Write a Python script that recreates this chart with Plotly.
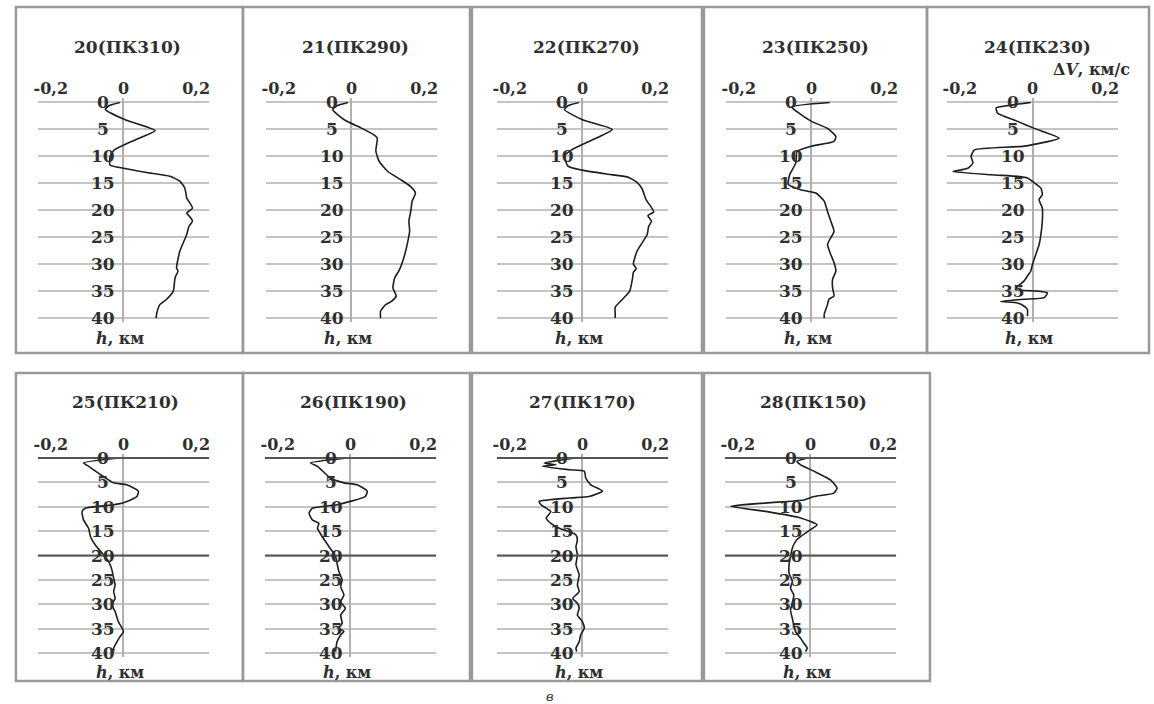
import plotly.graph_objects as go

# ---------------- data: velocity anomaly dV (km/s) versus depth h (km) ----------------
titles = ["20(ПК310)", "21(ПК290)", "22(ПК270)", "23(ПК250)", "24(ПК230)",
          "25(ПК210)", "26(ПК190)", "27(ПК170)", "28(ПК150)"]

h20 = [0, 0.6, 1.3, 3.2, 5.2, 7.0, 8.8, 10.0, 11.6, 12.2, 13.0, 13.7, 14.6, 15.9, 17.7,
       19.6, 20.5, 21.4, 22.0, 23.0, 24.5, 27.6, 30.7, 31.3, 32.5, 35.0, 36.5, 37.5, 39.3, 40.0]
dv20 = [-0.01, -0.04, -0.05, 0.005, 0.087, 0.03, -0.025, -0.037, -0.037, 0.0, 0.064, 0.128,
        0.155, 0.169, 0.174, 0.19, 0.174, 0.185, 0.19, 0.18, 0.174, 0.155, 0.146, 0.15, 0.142,
        0.137, 0.119, 0.1, 0.091, 0.09]

h21 = [0, 0.6, 1.3, 3.2, 4.7, 6.0, 6.6, 9.0, 10.9, 12.8, 14.3, 15.6, 16.8, 18.3, 20.2, 22.0,
       23.9, 26.4, 28.8, 31.3, 32.5, 34.4, 35.9, 36.9, 37.5, 38.7, 40.0]
dv21 = [-0.01, -0.04, -0.052, -0.02, 0.026, 0.062, 0.071, 0.067, 0.076, 0.1, 0.135, 0.163,
        0.176, 0.167, 0.163, 0.158, 0.16, 0.153, 0.144, 0.13, 0.119, 0.114, 0.123, 0.11,
        0.094, 0.08, 0.08]

h22 = [0, 0.6, 1.3, 3.2, 5.0, 7.0, 8.8, 10.0, 11.8, 12.5, 13.3, 13.8, 14.8, 16.0, 18.0, 19.5,
       20.3, 21.0, 22.0, 23.0, 24.5, 27.6, 30.0, 30.8, 31.5, 32.5, 35.0, 36.5, 38.0, 39.3, 40.0]
dv22 = [-0.01, -0.04, -0.05, 0.0, 0.082, 0.025, -0.03, -0.05, -0.04, -0.005, 0.07, 0.123,
        0.15, 0.164, 0.175, 0.19, 0.196, 0.18, 0.19, 0.182, 0.178, 0.15, 0.14, 0.148, 0.14,
        0.138, 0.13, 0.11, 0.09, 0.09, 0.09]

h23 = [0, 0.8, 1.7, 3.5, 4.8, 6.3, 7.2, 8.1, 9.1, 11.2, 13.4, 15.2, 16.2, 16.8, 18.3, 20.2,
       22.0, 23.9, 25.7, 26.4, 28.2, 29.7, 31.3, 32.8, 34.4, 35.9, 36.5, 37.5, 39.3, 40.0]
dv23 = [0.05, -0.055, -0.04, 0.0, 0.044, 0.067, 0.062, 0.0, -0.04, -0.043, -0.06, -0.064,
        -0.03, 0.012, 0.035, 0.044, 0.053, 0.062, 0.048, 0.044, 0.053, 0.062, 0.067, 0.058,
        0.058, 0.062, 0.048, 0.044, 0.035, 0.035]

h24 = [0, 0.4, 1.0, 2.0, 3.5, 4.8, 6.6, 8.1, 8.8, 10.0, 11.2, 12.2, 12.8, 13.4, 13.7, 14.0,
       14.9, 15.9, 17.1, 18.0, 19.6, 22.0, 24.5, 26.4, 28.2, 30.0, 31.3, 32.2, 33.1, 34.1,
       34.7, 35.0, 35.3, 36.2, 36.5, 36.9, 37.2, 37.8, 38.4, 39.6]
dv24 = [-0.005, -0.05, -0.1, -0.096, -0.041, 0.005, 0.073, -0.023, -0.16, -0.169, -0.164,
        -0.178, -0.219, -0.114, -0.041, -0.014, 0.005, 0.023, 0.027, 0.018, 0.027, 0.027,
        0.023, 0.018, 0.009, 0.0, -0.005, -0.014, -0.023, -0.041, -0.046, 0.014, 0.041,
        0.032, -0.023, -0.087, -0.041, -0.023, -0.014, -0.014]

h25 = [0, 1.0, 1.7, 3.8, 5.1, 5.5, 6.8, 7.9, 9.2, 9.6, 10.3, 11.0, 12.7, 14.4, 16.1, 17.8,
       19.5, 21.2, 22.9, 24.7, 26.0, 27.4, 28.8, 30.1, 31.5, 33.6, 35.6, 36.6, 37.7, 39.0, 39.7]
dv25 = [-0.01, -0.11, -0.096, -0.055, -0.027, 0.009, 0.041, 0.037, 0.0, -0.027, -0.105,
        -0.114, -0.11, -0.096, -0.091, -0.078, -0.059, -0.041, -0.032, -0.027, -0.023,
        -0.027, -0.023, -0.032, -0.023, -0.014, 0.0, -0.009, -0.018, -0.027, -0.027]

h26 = [0, 1.0, 1.7, 4.1, 5.1, 5.5, 6.8, 7.9, 8.9, 9.6, 10.3, 11.3, 12.7, 13.4, 14.4, 16.1,
       18.2, 20.2, 21.6, 23.3, 25.0, 26.4, 28.1, 29.5, 30.8, 32.2, 33.9, 34.9, 35.6, 36.3,
       37.7, 39.7]
dv26 = [-0.01, -0.11, -0.091, -0.055, -0.018, 0.018, 0.046, 0.041, 0.0, -0.037, -0.105,
        -0.114, -0.105, -0.087, -0.091, -0.078, -0.059, -0.041, -0.037, -0.032, -0.023,
        -0.027, -0.018, -0.027, -0.014, -0.027, -0.023, -0.032, -0.018, -0.027, -0.037,
        -0.041]

h27 = [0, 1.0, 1.4, 1.7, 2.4, 2.7, 4.1, 5.5, 6.8, 7.9, 8.2, 8.9, 9.6, 10.3, 11.0, 12.3,
       13.4, 14.4, 15.1, 15.8, 16.8, 18.2, 19.9, 21.9, 24.0, 26.0, 27.4, 28.1, 28.8, 29.8,
       30.8, 32.2, 33.6, 34.9, 36.3, 37.7, 39.0, 39.7]
dv27 = [-0.02, -0.105, -0.073, -0.11, -0.037, 0.005, 0.009, 0.023, 0.055, 0.018, -0.037,
        -0.119, -0.114, -0.1, -0.087, -0.1, -0.087, -0.064, -0.037, -0.018, -0.014, -0.018,
        -0.014, -0.018, -0.009, -0.014, -0.009, -0.018, -0.027, -0.014, -0.009, -0.014,
        0.0, 0.005, -0.005, -0.009, -0.018, -0.016]

h28 = [0, 0.7, 1.4, 2.7, 4.5, 6.2, 7.2, 7.9, 8.6, 9.2, 9.9, 11.0, 12.3, 13.7, 14.7, 16.1,
       17.1, 18.5, 20.2, 21.9, 23.6, 25.3, 26.7, 28.1, 29.8, 31.2, 32.9, 34.2, 35.6, 37.0,
       38.0, 39.0, 39.7]
dv28 = [-0.01, -0.037, -0.027, 0.009, 0.055, 0.073, 0.064, 0.009, -0.018, -0.119, -0.219,
        -0.119, -0.027, 0.018, 0.0, -0.027, -0.041, -0.05, -0.055, -0.059, -0.059, -0.05,
        -0.055, -0.046, -0.05, -0.055, -0.05, -0.046, -0.041, -0.027, -0.018, -0.009, -0.014]

depths = [h20, h21, h22, h23, h24, h25, h26, h27, h28]
anomalies = [dv20, dv21, dv22, dv23, dv24, dv25, dv26, dv27, dv28]

depth_ticks = [0, 5, 10, 15, 20, 25, 30, 35, 40]
dv_tickvals = [-0.2, 0, 0.2]
dv_ticktext = ["-0,2", "0", "0,2"]

# ---------------- page geometry (pixels) ----------------
W, H = 1154, 704
SERIF = "DejaVu Serif"
INK = "#2f2f2f"
GRID = "#c4c4c4"
FRAME = "#9a9a9a"

# x position (px) of dV = 0 for each panel, and the panel frame extents
zero_px = [120, 349, 581, 811, 1033, 120, 348, 581, 810]
frames = [(12, 240, 7, 353), (240, 468, 7, 353), (470, 701, 7, 353), (703, 927, 7, 353),
          (927, 1150, 7, 353),
          (12, 240, 373, 681), (240, 468, 373, 681), (470, 701, 373, 681), (703, 930, 373, 681)]
title_px = [124, 353, 585, 815, 1038, 122, 351, 581, 813]
# per row: y px of h=0, px per km, title y, footer y
rows = {0: dict(y0=102.5, k=5.39, title=47, foot=338),
        1: dict(y0=458.0, k=4.875, title=402, foot=672)}

HALF_W = 86           # half width of a plot area in px
PX_PER_UNIT = 365.0   # px per 1 km/s
XR = HALF_W / PX_PER_UNIT
YPAD = 0.8

fig = go.Figure()
layout = dict(width=W, height=H, margin=dict(l=0, r=0, t=0, b=0),
              paper_bgcolor="white", plot_bgcolor="rgba(0,0,0,0)", showlegend=False)
annotations = []
shapes = []


def px_x(p):
    return p / W


def px_y(p):
    return 1 - p / H


for i in range(9):
    n = i + 1
    suffix = "" if n == 1 else str(n)
    row = rows[0 if i < 5 else 1]
    zx = zero_px[i]
    top = row["y0"] - YPAD * row["k"]
    bot = row["y0"] + (40 + YPAD) * row["k"]

    layout["xaxis" + suffix] = dict(
        domain=[px_x(zx - HALF_W), px_x(zx + HALF_W)], range=[-XR, XR],
        anchor="y" + suffix, side="top", tickvals=dv_tickvals, ticktext=dv_ticktext,
        ticks="", showgrid=False, zeroline=True, zerolinecolor="#b0b0b0", zerolinewidth=1.5,
        showline=False, tickfont=dict(family=SERIF, size=16, color=INK, weight="bold"),
        ticklabelstandoff=0, fixedrange=True)
    layout["yaxis" + suffix] = dict(
        domain=[px_y(bot), px_y(top)], range=[40 + YPAD, -YPAD], anchor="x" + suffix,
        tickvals=depth_ticks, showticklabels=False, ticks="", showgrid=True,
        gridcolor=GRID, gridwidth=2, zeroline=False, showline=False, fixedrange=True)

    xref, yref = "x" + suffix, "y" + suffix

    # darker reference lines at 0 and 20 km on the lower row
    if i >= 5:
        for hv in (0, 20):
            shapes.append(dict(type="line", xref=xref + " domain", yref=yref,
                               x0=0, x1=1, y0=hv, y1=hv,
                               line=dict(color="#555555", width=2), layer="above"))

    fig.add_trace(go.Scatter(x=anomalies[i], y=depths[i], mode="lines",
                             line=dict(color="#1e1e1e", width=1.6, shape="spline",
                                       smoothing=0.5),
                             xaxis=xref, yaxis=yref, hoverinfo="skip"))

    # depth labels written over the profile
    for hv in depth_ticks:
        annotations.append(dict(x=-0.055, y=hv, xref=xref, yref=yref, text=str(hv),
                                showarrow=False, xanchor="center", yanchor="middle",
                                font=dict(family=SERIF, size=17, color=INK, weight="bold")))

    annotations.append(dict(x=px_x(title_px[i]), y=px_y(row["title"]), xref="paper",
                            yref="paper", text=titles[i], showarrow=False,
                            xanchor="center", yanchor="middle",
                            font=dict(family=SERIF, size=17, color=INK, weight="bold")))
    annotations.append(dict(x=-0.01, y=px_y(row["foot"]), xref=xref, yref="paper",
                            text="<i>h</i>, км", showarrow=False, xanchor="center",
                            yanchor="middle",
                            font=dict(family=SERIF, size=16, color=INK, weight="bold")))

    fx0, fx1, fy0, fy1 = frames[i]
    shapes.append(dict(type="rect", xref="paper", yref="paper",
                       x0=px_x(fx0), x1=px_x(fx1), y0=px_y(fy1), y1=px_y(fy0),
                       line=dict(color=FRAME, width=2.5), layer="below"))

# axis caption for the velocity anomaly
annotations.append(dict(x=px_x(1092), y=px_y(70), xref="paper", yref="paper",
                        text="Δ<i>V</i>, км/с", showarrow=False, xanchor="center",
                        yanchor="middle",
                        font=dict(family=SERIF, size=16, color=INK, weight="bold")))
# figure part letter
annotations.append(dict(x=px_x(548), y=px_y(696), xref="paper", yref="paper",
                        text="<i>в</i>", showarrow=False, xanchor="center",
                        yanchor="middle", font=dict(family=SERIF, size=13, color=INK)))

layout["annotations"] = annotations
layout["shapes"] = shapes
fig.update_layout(**layout)
fig.write_html("out.html")
